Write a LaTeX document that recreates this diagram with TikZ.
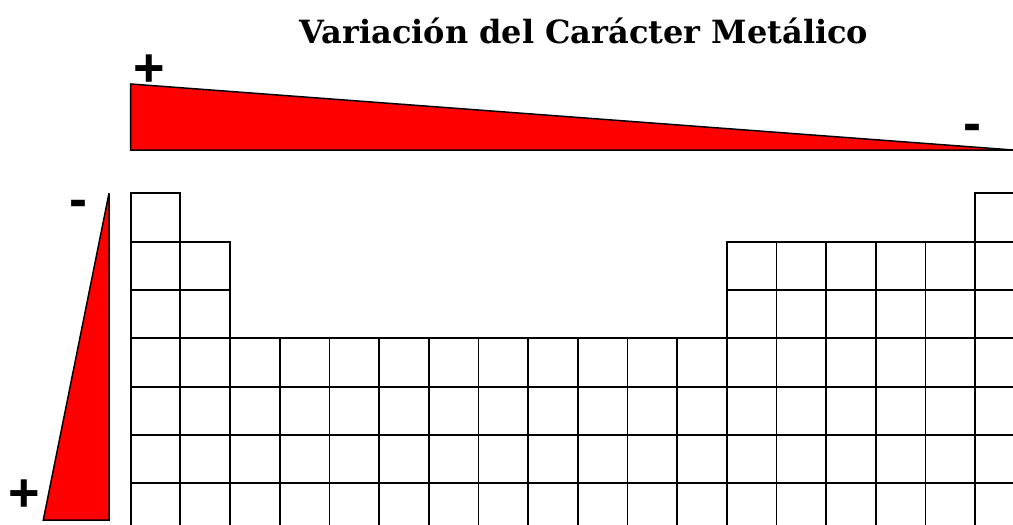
\documentclass[tikz,border=0pt]{standalone}
\usepackage{fontspec}
\setmainfont{DejaVu Serif}
\newfontfamily\signfont{Liberation Sans}
\usepackage{xcolor}

\begin{document}
\begin{tikzpicture}[
    x=1pt, y=-1pt,
    cell/.style={draw=black, line width=1.8pt},
    wedge/.style={draw=black, fill=red, line width=1.5pt, line join=miter},
    sign/.style={anchor=base, inner sep=0pt, font=\signfont\bfseries\fontsize{54}{54}\selectfont},
    heading/.style={anchor=base, inner sep=0pt, font=\bfseries\fontsize{32}{32}\selectfont}
]
    \useasboundingbox (0,0) rectangle (1013,525);
    \clip (0,0) rectangle (1013,525);

    \node[heading] (title) at (584,43) {Variación del Carácter Metálico};

    % horizontal wedge
    \draw[wedge] (130.7,84) -- (130.7,150) -- (1013,150) -- cycle;
    \node[sign] (hplus)  at (149.3,86)  {+};
    \node[sign] (hminus) at (972.3,141) {-};

    % vertical wedge
    \draw[wedge] (109,193.3) -- (109,520) -- (43.3,520) -- cycle;
    \node[sign] (vminus) at (78.3,217.3) {-};
    \node[sign] (vplus)  at (24,511)     {+};

    % table cells
    \def\dx{49.68}
    \def\dy{48.33}
    \foreach \c in {1,18}
        \draw[cell] ({130.7+(\c-1)*\dx},193.3) rectangle +(\dx,\dy);
    \foreach \r in {2,3}
        \foreach \c in {1,2,13,14,15,16,17,18}
            \draw[cell] ({130.7+(\c-1)*\dx},{193.3+(\r-1)*\dy}) rectangle +(\dx,\dy);
    \foreach \r in {4,...,7}
        \foreach \c in {1,...,18}
            \draw[cell] ({130.7+(\c-1)*\dx},{193.3+(\r-1)*\dy}) rectangle +(\dx,\dy);
\end{tikzpicture}
\end{document}
